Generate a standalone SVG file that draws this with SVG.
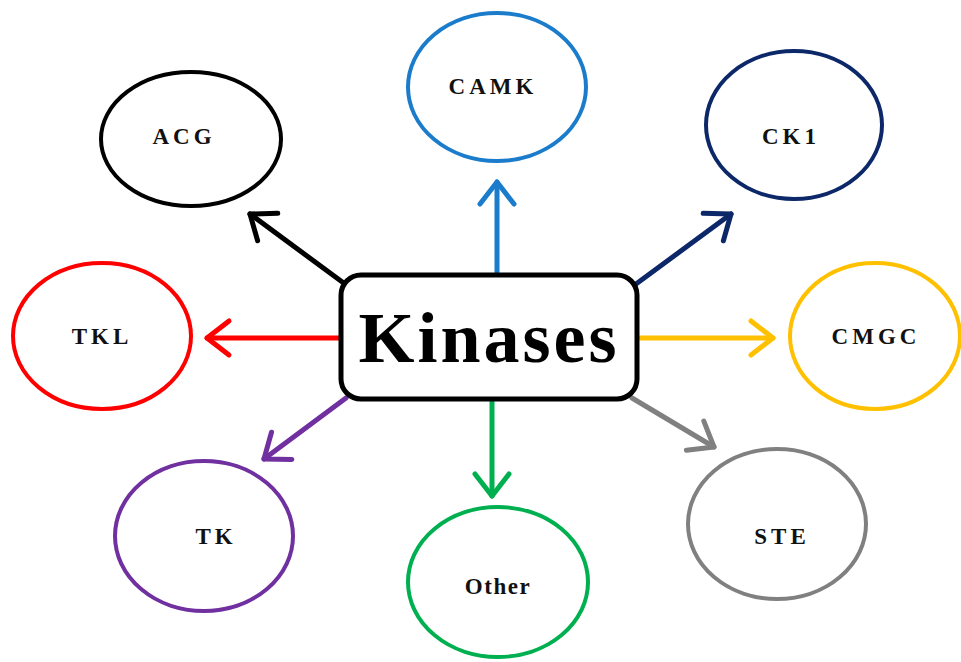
<svg xmlns="http://www.w3.org/2000/svg" width="961" height="662" viewBox="0 0 961 662">
<style>
.node ellipse{fill:#fff;stroke-width:4}
.lbl{font-family:"Liberation Serif","Times New Roman",serif;font-weight:bold;font-size:23px;letter-spacing:4px;text-anchor:middle;dominant-baseline:central;fill:#111}
.conn line{stroke-width:5;stroke-linecap:round;fill:none}
.hd{fill:none;stroke-width:5;stroke-linecap:round;stroke-linejoin:round}
</style>
<defs>
<marker id="mk" markerUnits="userSpaceOnUse" viewBox="-28 -24 32 48" refX="0" refY="0" markerWidth="32" markerHeight="48" orient="auto"><path class="hd" d="M-22,-17 L0,0 L-22,17" stroke="#000"/></marker>
<marker id="mb" markerUnits="userSpaceOnUse" viewBox="-28 -24 32 48" refX="0" refY="0" markerWidth="32" markerHeight="48" orient="auto"><path class="hd" d="M-22,-17 L0,0 L-22,17" stroke="#1B7CCB"/></marker>
<marker id="mn" markerUnits="userSpaceOnUse" viewBox="-28 -24 32 48" refX="0" refY="0" markerWidth="32" markerHeight="48" orient="auto"><path class="hd" d="M-22,-17 L0,0 L-22,17" stroke="#0C2868"/></marker>
<marker id="my" markerUnits="userSpaceOnUse" viewBox="-28 -24 32 48" refX="0" refY="0" markerWidth="32" markerHeight="48" orient="auto"><path class="hd" d="M-22,-17 L0,0 L-22,17" stroke="#FFC000"/></marker>
<marker id="mr" markerUnits="userSpaceOnUse" viewBox="-28 -24 32 48" refX="0" refY="0" markerWidth="32" markerHeight="48" orient="auto"><path class="hd" d="M-22,-17 L0,0 L-22,17" stroke="#FF0000"/></marker>
<marker id="mp" markerUnits="userSpaceOnUse" viewBox="-28 -24 32 48" refX="0" refY="0" markerWidth="32" markerHeight="48" orient="auto"><path class="hd" d="M-22,-17 L0,0 L-22,17" stroke="#7030A0"/></marker>
<marker id="mg" markerUnits="userSpaceOnUse" viewBox="-28 -24 32 48" refX="0" refY="0" markerWidth="32" markerHeight="48" orient="auto"><path class="hd" d="M-22,-17 L0,0 L-22,17" stroke="#00B050"/></marker>
<marker id="ma" markerUnits="userSpaceOnUse" viewBox="-28 -24 32 48" refX="0" refY="0" markerWidth="32" markerHeight="48" orient="auto"><path class="hd" d="M-22,-17 L0,0 L-22,17" stroke="#808080"/></marker>
</defs>
<rect width="961" height="662" fill="#fff"/>
<g id="connectors" class="conn">
<line x1="345" y1="284" x2="250" y2="214" stroke="#000" marker-end="url(#mk)"/>
<line x1="497" y1="272" x2="497" y2="182" stroke="#1B7CCB" marker-end="url(#mb)"/>
<line x1="636" y1="284" x2="731" y2="214" stroke="#0C2868" marker-end="url(#mn)"/>
<line x1="640" y1="338" x2="773" y2="338" stroke="#FFC000" marker-end="url(#my)"/>
<line x1="340" y1="338" x2="207" y2="338" stroke="#FF0000" marker-end="url(#mr)"/>
<line x1="346" y1="398" x2="264" y2="459" stroke="#7030A0" marker-end="url(#mp)"/>
<line x1="492" y1="402" x2="492" y2="496" stroke="#00B050" marker-end="url(#mg)"/>
<line x1="632" y1="398" x2="714" y2="447" stroke="#808080" marker-end="url(#ma)"/>
</g>
<g id="kinases">
<rect x="341" y="275" width="296" height="124" rx="20" ry="20" fill="#fff" stroke="#000" stroke-width="5"/>
<text x="489" y="338" font-family="Liberation Serif,'Times New Roman',serif" font-weight="bold" font-size="72" letter-spacing="3" text-anchor="middle" dominant-baseline="central">Kinases</text>
</g>
<g id="acg" class="node"><ellipse cx="191" cy="139" rx="90" ry="67" stroke="#000"/><text class="lbl" x="184" y="136">ACG</text></g>
<g id="camk" class="node"><ellipse cx="497" cy="87" rx="89" ry="74" stroke="#1B7CCB"/><text class="lbl" x="493" y="86">CAMK</text></g>
<g id="ck1" class="node"><ellipse cx="794" cy="125" rx="88" ry="74" stroke="#0C2868"/><text class="lbl" x="791" y="136">CK1</text></g>
<g id="cmgc" class="node"><ellipse cx="875" cy="336" rx="85" ry="73" stroke="#FFC000"/><text class="lbl" x="876" y="336">CMGC</text></g>
<g id="tkl" class="node"><ellipse cx="102" cy="336" rx="89" ry="73" stroke="#FF0000"/><text class="lbl" x="102" y="336">TKL</text></g>
<g id="tk" class="node"><ellipse cx="204" cy="536" rx="89" ry="75" stroke="#7030A0"/><text class="lbl" x="216" y="536">TK</text></g>
<g id="other" class="node"><ellipse cx="498" cy="582" rx="90" ry="75" stroke="#00B050"/><text class="lbl" x="498" y="586" style="letter-spacing:1.5px">Other</text></g>
<g id="ste" class="node"><ellipse cx="777" cy="524" rx="89" ry="75" stroke="#808080"/><text class="lbl" x="782" y="536">STE</text></g>
</svg>
